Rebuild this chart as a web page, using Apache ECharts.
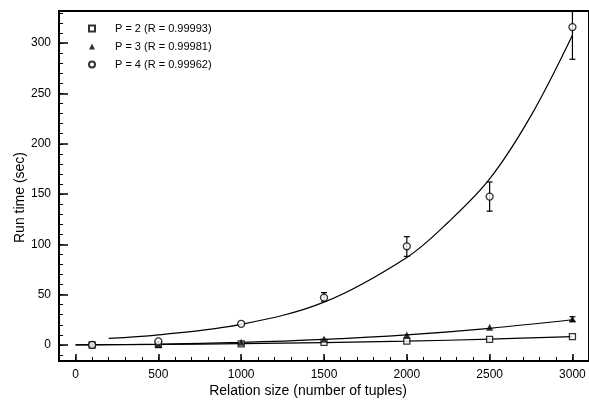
<!DOCTYPE html>
<html>
<head>
<meta charset="utf-8">
<script src="https://cdn.jsdelivr.net/npm/echarts@6/dist/echarts.min.js"></script>
<style>
html, body {
  margin: 0;
  padding: 0;
  background: #fff;
}
#run-chart {
  width: 589px;
  height: 403px;
}
</style>
</head>
<body>
<div id="run-chart"></div>
<script>
// measured points
const sizes = [100, 500, 1000, 1500, 2000, 2500, 3000]
const p2Times = [0, 0.4, 1, 2.5, 3.7, 5.5, 8.2]
const p3Times = [0, 0.6, 2.6, 5.8, 9.9, 17.5, 25.7]
const p4Times = [0, 3.5, 21, 47, 98, 147.5, 316]

// error bars
const errSizes = [1500, 2000, 2500, 3000, 3000]
const errLow = [43.5, 88, 133, 284, 23.5]
const errHigh = [52, 107.6, 162, 348, 28]

// fitted curves
const fitSizes = [0, 500, 1000, 1500, 2000, 2500, 3000]
const p2Fit = [0, 0.4, 1.2, 2.3, 3.7, 5.7, 8.3]
const p3Fit = [0, 0.8, 2.5, 5.5, 10, 16.5, 25]
const p4FitSizes = [200, 500, 1000, 1500, 2000, 2250, 2500, 2750, 3000]
const p4Fit = [6.5, 10, 20.5, 42.5, 87, 122, 165, 228, 308]

const legendNames = ['P = 2 (R = 0.99993)', 'P = 3 (R = 0.99981)', 'P = 4 (R = 0.99962)']
const xTicks = [0, 500, 1000, 1500, 2000, 2500, 3000]
const yTicks = [0, 50, 100, 150, 200, 250, 300]

const font = 'Liberation Sans'

function pairs (xs, ys) {
  return xs.map((x, i) => [x, ys[i]])
}

function range (from, to, step) {
  const out = []
  for (let v = from; v <= to; v += step) out.push(v)
  return out
}

function fitLine (xs, ys) {
  return {
    type: 'line',
    data: pairs(xs, ys),
    smooth: 0.35,
    showSymbol: false,
    silent: true,
    z: 2,
    lineStyle: { color: '#000', width: 1.2 }
  }
}

const axisBase = {
  type: 'value',
  splitLine: { show: false },
  axisLine: { show: true, onZero: false, lineStyle: { color: '#000', width: 2 } }
}

const labelBase = {
  margin: 8,
  fontFamily: font,
  fontSize: 12,
  color: '#000',
  formatter: v => String(v)
}

const option = {
  animation: false,
  backgroundColor: '#fff',
  textStyle: { fontFamily: font, color: '#000' },
  grid: {
    left: 59,
    top: 11,
    right: -4,
    bottom: 40.5,
    show: true,
    borderColor: '#000',
    borderWidth: 2
  },
  legend: {
    data: legendNames,
    orient: 'vertical',
    left: 83,
    top: 17,
    itemWidth: 6,
    itemHeight: 6,
    itemGap: 5,
    textStyle: { fontFamily: font, fontSize: 11, color: '#000', lineHeight: 13, padding: [0, 0, 0, 15] }
  },
  xAxis: [
    Object.assign({}, axisBase, {
      min: -100,
      max: 3100,
      name: 'Relation size (number of tuples)',
      nameLocation: 'middle',
      nameGap: 23,
      nameMoveOverlap: false,
      nameTextStyle: { fontFamily: font, fontSize: 14, color: '#000', padding: [0, 32, 0, 0] },
      axisTick: { inside: true, length: 7, customValues: xTicks, lineStyle: { color: '#000', width: 1.5 } },
      axisLabel: Object.assign({ customValues: xTicks }, labelBase)
    }),
    Object.assign({}, axisBase, {
      min: -100,
      max: 3100,
      position: 'bottom',
      axisLine: { show: false, onZero: false },
      axisTick: { inside: true, length: 4, customValues: range(-100, 3100, 100), lineStyle: { color: '#000', width: 1 } },
      axisLabel: { show: false }
    })
  ],
  yAxis: [
    Object.assign({}, axisBase, {
      min: -16,
      max: 332,
      name: 'Run time (sec)',
      nameLocation: 'middle',
      nameGap: 32,
      nameMoveOverlap: false,
      nameTextStyle: { fontFamily: font, fontSize: 14, color: '#000', padding: [0, 23, 0, 0] },
      axisTick: { inside: true, length: 9, customValues: yTicks, lineStyle: { color: '#000', width: 1.5 } },
      axisLabel: Object.assign({ customValues: yTicks }, labelBase)
    }),
    Object.assign({}, axisBase, {
      min: -16,
      max: 332,
      position: 'left',
      axisLine: { show: false, onZero: false },
      axisTick: { inside: true, length: 4, customValues: range(-10, 330, 10), lineStyle: { color: '#000', width: 1 } },
      axisLabel: { show: false }
    })
  ],
  series: [
    fitLine(fitSizes, p2Fit),
    fitLine(fitSizes, p3Fit),
    fitLine(p4FitSizes, p4Fit),
    {
      type: 'custom',
      data: errSizes.map((x, i) => [x, errLow[i], errHigh[i]]),
      encode: { x: 0, y: [1, 2] },
      clip: true,
      silent: true,
      z: 3,
      renderItem: function (params, api) {
        const lo = api.coord([api.value(0), api.value(1)])
        const hi = api.coord([api.value(0), api.value(2)])
        const w = 3
        const style = { stroke: '#000', lineWidth: 1.2 }
        return {
          type: 'group',
          children: [
            { type: 'line', shape: { x1: lo[0], y1: lo[1], x2: hi[0], y2: hi[1] }, style: style },
            { type: 'line', shape: { x1: lo[0] - w, y1: lo[1], x2: lo[0] + w, y2: lo[1] }, style: style },
            { type: 'line', shape: { x1: hi[0] - w, y1: hi[1], x2: hi[0] + w, y2: hi[1] }, style: style }
          ]
        }
      }
    },
    {
      name: legendNames[0],
      type: 'scatter',
      data: pairs(sizes, p2Times),
      symbol: 'rect',
      symbolSize: 6,
      z: 4,
      itemStyle: { color: '#fff', borderColor: '#000', borderWidth: 1.3 }
    },
    {
      name: legendNames[1],
      type: 'scatter',
      data: pairs(sizes, p3Times),
      symbol: 'triangle',
      symbolSize: 7,
      z: 4,
      itemStyle: { color: '#000' }
    },
    {
      name: legendNames[2],
      type: 'scatter',
      data: pairs(sizes, p4Times),
      symbol: 'circle',
      symbolSize: 7,
      z: 5,
      itemStyle: { color: '#fff', borderColor: '#000', borderWidth: 1.3 }
    }
  ]
}

const chart = echarts.init(document.getElementById('run-chart'))
chart.setOption(option)
</script>
</body>
</html>
